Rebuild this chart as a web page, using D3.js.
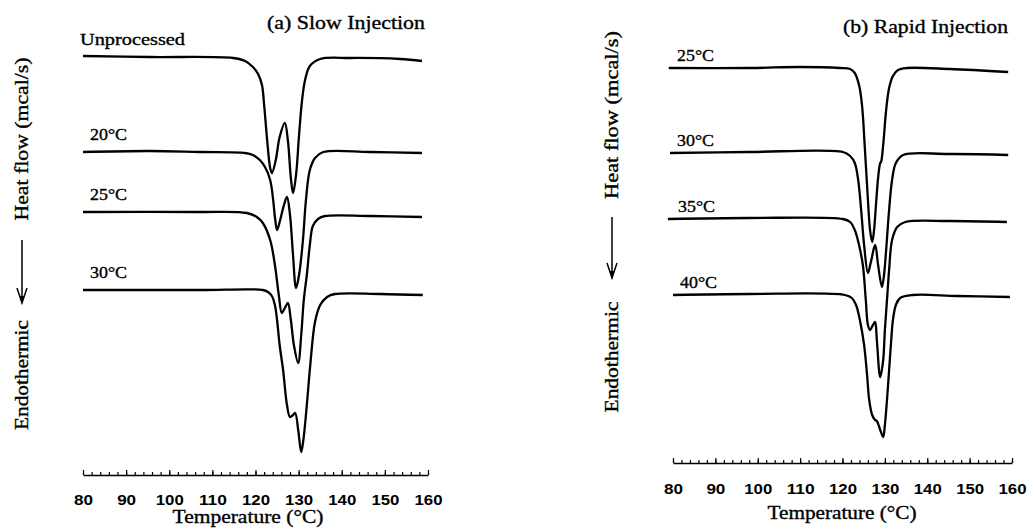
<!DOCTYPE html>
<html>
<head>
<meta charset="utf-8">
<script src="https://cdn.jsdelivr.net/npm/d3@7"></script>
<style>
    body { margin: 0; background: #fff; }
    svg { display: block; }
</style>
</head>
<body>
<svg width="1027" height="532"></svg>
<script>
// DSC traces: [temperature (°C), heat flow deviation from baseline (a.u.)]
var tickValues  = [80, 90, 100, 110, 120, 130, 140, 150, 160];
var minorTicks  = d3.range(80, 161, 2);

// (a) slow injection
var slowLabels  = ["Unprocessed", "20°C", "25°C", "30°C"];
var slowOffsets = [42.3, 32.8, 26.8, 19.0];
var slowUnprocessed = [[80,0.1],[95.5,0],[114.8,-0.1],[117.6,-0.4],[119.4,-1.0],[120.6,-1.7],[121.5,-2.8],[122.0,-4.8],
    [122.7,-8.3],[123.4,-11.1],[123.8,-11.6],[124.7,-10.3],[125.6,-8.0],[126.8,-6.6],[127.5,-8.3],[128.2,-12.1],
    [128.7,-13.6],[129.4,-11.8],[130.1,-7.8],[130.8,-4.3],[131.5,-2.3],[132.6,-0.9],[135.0,-0.2],[141.9,-0.1],
    [153.5,-0.2],[158.6,-0.4]];
var slow20 = [[80,0],[95.5,0.1],[107.1,0],[117.6,-0.1],[119.4,-0.3],[121.0,-0.8],[122.2,-1.5],[123.4,-2.8],[124.1,-4.8],
    [124.5,-6.5],[125.0,-7.8],[125.6,-7.0],[126.6,-5.3],[127.3,-4.5],[128.0,-6.3],[128.7,-10.3],[129.4,-13.6],
    [130.1,-12.3],[131.0,-8.8],[131.7,-4.8],[132.6,-1.8],[133.8,-0.6],[135.7,0],[146.5,0],[158.6,-0.1]];
var slow25 = [[80,0],[107,0],[118.0,-0.1],[120.3,-0.5],[121.7,-1.1],[123.4,-2.8],[124.5,-5.3],[125.4,-8.3],[126.1,-10.1],
    [126.8,-9.6],[127.5,-9.1],[128.2,-10.8],[128.9,-13.3],[129.9,-15.1],[130.6,-12.3],[131.2,-8.8],[131.9,-6.3],
    [132.6,-3.3],[133.3,-1.4],[134.5,-0.7],[136.1,-0.4],[146.5,-0.4],[158.6,-0.5]];
var slow30 = [[80,0],[107,0],[121.7,0],[122.9,-0.2],[123.8,-0.6],[124.5,-1.5],[125.0,-3.0],[125.6,-5.5],[126.4,-8.0],
    [127.3,-11.5],[128.0,-12.7],[128.7,-12.5],[129.2,-12.3],[129.9,-14.0],[130.6,-16.2],[131.1,-15.0],[131.8,-12.0],
    [132.7,-7.5],[133.8,-3.2],[135.0,-1.5],[136.6,-0.7],[138.4,-0.4],[148.9,-0.4],[158.8,-0.5]];

// (b) rapid injection
var rapidLabels  = ["25°C", "30°C", "35°C", "40°C"];
var rapidOffsets = [41.2, 32.7, 26.1, 18.5];
var rapid25 = [[79,0],[98.2,0],[110,0.1],[119.4,0],[121.8,-0.1],[122.9,-0.5],[123.9,-1.7],[124.6,-3.7],[125.3,-8.2],
    [126.0,-13.2],[126.5,-16.2],[127.0,-17.4],[127.4,-16.4],[127.9,-13.7],[128.4,-11.0],[128.9,-9.5],[129.1,-9.4],
    [129.6,-7.7],[130.3,-4.2],[131.0,-2.0],[131.9,-0.8],[133.1,-0.2],[135.2,0],[145.4,-0.1],[159.1,-0.4]];
var rapid30 = [[79.3,0],[98,0.1],[120.1,0.1],[121.8,-0.3],[122.9,-1.0],[123.7,-2.7],[124.4,-5.7],[125.1,-9.2],[126.0,-12.0],
    [126.7,-10.9],[127.7,-9.2],[128.4,-11.2],[129.3,-13.4],[129.8,-12.2],[130.3,-9.7],[131.0,-5.7],[131.7,-2.7],
    [132.6,-1.0],[134.3,-0.2],[145,-0.1],[159.1,-0.2]];
var rapid35 = [[78.8,0],[98,0.1],[120.1,0],[121.8,-0.3],[122.9,-1.1],[123.9,-2.6],[124.8,-4.6],[125.5,-8.1],[126.0,-10.6],
    [126.5,-11.1],[127.2,-10.6],[127.7,-10.3],[128.1,-12.1],[128.9,-15.8],[129.6,-14.1],[130.0,-11.1],[130.5,-8.1],
    [131.0,-5.1],[131.7,-2.1],[132.9,-0.8],[134.8,-0.3],[145,-0.2],[158.8,-0.3]];
var rapid40 = [[80,0],[98,0.1],[120.6,0],[122.2,-0.3],[123.2,-1.0],[124.1,-2.5],[125.1,-5.0],[125.8,-8.0],[126.3,-10.5],
    [127.0,-12.0],[127.7,-12.5],[128.1,-12.6],[128.9,-13.5],[129.6,-14.2],[130.0,-13.0],[130.5,-10.5],[131.0,-7.5],
    [131.5,-4.5],[131.9,-2.5],[132.6,-1.0],[133.6,-0.3],[136.6,0],[147,-0.1],[159.5,-0.2]];

var svg    = d3.select("svg"),
    serif  = "'Liberation Serif', 'Times New Roman', serif",
    yScale = d3.scaleLinear().domain([0, 44]).range([480, 40]);

var panels = [
    { curves: [slowUnprocessed, slow20, slow25, slow30], offsets: slowOffsets, labels: slowLabels,
      xRange: [83, 428], axisY: 475, tickPad: 19, labelX: [80, 90, 90, 90], labelDy: -12,
      title: "(a) Slow Injection", titleX: 267, titleY: 29, titleLen: 158,
      xTitleX: 248, xTitleY: 523, xTitleLen: 151,
      yX: 22, heatY: 139, heatLen: 163, arrow: [240, 303], endoY: 375, endoLen: 110 },
    { curves: [rapid25, rapid30, rapid35, rapid40], offsets: rapidOffsets, labels: rapidLabels,
      xRange: [673, 1012], axisY: 463, tickPad: 20, labelX: [677, 677, 678, 680], labelDy: -7,
      title: "(b) Rapid Injection", titleX: 843, titleY: 33, titleLen: 165,
      xTitleX: 842, xTitleY: 519, xTitleLen: 149,
      yX: 612, heatY: 115, heatLen: 168, arrow: [217, 278], endoY: 357, endoLen: 111 }
];

/**
 * Serif caption, slightly stroked so it reads as heavy as the scanned figure
 */
function serifText(sel, size, len) {
    return sel.attr("font-family", serif)
        .attr("font-size", size)
        .attr("stroke", "#000")
        .attr("stroke-width", 0.35)
        .attr("textLength", len)
        .attr("lengthAdjust", "spacingAndGlyphs");
}

/**
 * Draws one DSC panel: traces, labels, temperature axis and the y caption
 */
function drawPanel(p) {
    var x = d3.scaleLinear().domain([80, 160]).range(p.xRange),
        g = svg.append("g");

    p.curves.forEach(function(c, i) {
        var line = d3.line()
            .x(function(d) { return x(d[0]); })
            .y(function(d) { return yScale(p.offsets[i] + d[1]); })
            .curve(d3.curveCatmullRom.alpha(0.5));

        g.append("path")
            .datum(c)
            .attr("d", line)
            .attr("fill", "none")
            .attr("stroke", "#000")
            .attr("stroke-width", 2.3)
            .attr("stroke-linejoin", "round");

        serifText(g.append("text"), 17, p.labels[i].length > 5 ? 105 : 37)
            .attr("x", p.labelX[i])
            .attr("y", yScale(p.offsets[i]) + p.labelDy)
            .text(p.labels[i]);
    });

    // minor ticks every 2 °C, then labelled ticks
    var minor = g.append("g")
        .attr("transform", "translate(0," + p.axisY + ")")
        .call(d3.axisBottom(x).tickValues(minorTicks).tickSize(-3).tickSizeOuter(0).tickFormat(""));
    minor.select(".domain").attr("stroke-width", 1.6);

    var major = g.append("g")
        .attr("transform", "translate(0," + p.axisY + ")")
        .call(d3.axisBottom(x).tickValues(tickValues).tickSize(-5).tickSizeOuter(0).tickPadding(p.tickPad));
    major.select(".domain").remove();
    major.selectAll("text")
        .attr("font-family", "'Liberation Sans', Arial, sans-serif")
        .attr("font-weight", "bold")
        .attr("font-size", 15)
        .attr("fill", "#000")
        .attr("textLength", function(d) { return d >= 100 ? 28 : 19; })
        .attr("lengthAdjust", "spacingAndGlyphs");
    g.selectAll(".tick line").attr("stroke", "#000").attr("stroke-width", 1.2);

    serifText(g.append("text"), 19, p.titleLen)
        .attr("x", p.titleX)
        .attr("y", p.titleY)
        .text(p.title);

    serifText(g.append("text"), 19, p.xTitleLen)
        .attr("x", p.xTitleX)
        .attr("y", p.xTitleY)
        .attr("text-anchor", "middle")
        .text("Temperature (°C)");

    // rotated caption: Heat flow  ↓  Endothermic
    [["Heat flow (mcal/s)", p.heatY, p.heatLen], ["Endothermic", p.endoY, p.endoLen]].forEach(function(t) {
        serifText(g.append("text"), 18, t[2])
            .attr("transform", "translate(" + p.yX + "," + t[1] + ") rotate(-90)")
            .attr("text-anchor", "middle")
            .attr("dy", "0.35em")
            .text(t[0]);
    });

    g.append("line")
        .attr("x1", p.yX).attr("x2", p.yX)
        .attr("y1", p.arrow[0]).attr("y2", p.arrow[1] - 2)
        .attr("stroke", "#000")
        .attr("stroke-width", 1.5);
    g.append("path")
        .attr("d", "M" + (p.yX - 5) + "," + (p.arrow[1] - 15) +
                   " L" + p.yX + "," + p.arrow[1] +
                   " L" + (p.yX + 5) + "," + (p.arrow[1] - 15))
        .attr("fill", "none")
        .attr("stroke", "#000")
        .attr("stroke-width", 1.5);
    g.append("path")
        .attr("d", "M" + (p.yX - 2.5) + "," + (p.arrow[1] - 7) +
                   " L" + p.yX + "," + (p.arrow[1] + 1) +
                   " L" + (p.yX + 2.5) + "," + (p.arrow[1] - 7) + "Z")
        .attr("fill", "#000");
}

panels.forEach(drawPanel);
</script>
</body>
</html>
